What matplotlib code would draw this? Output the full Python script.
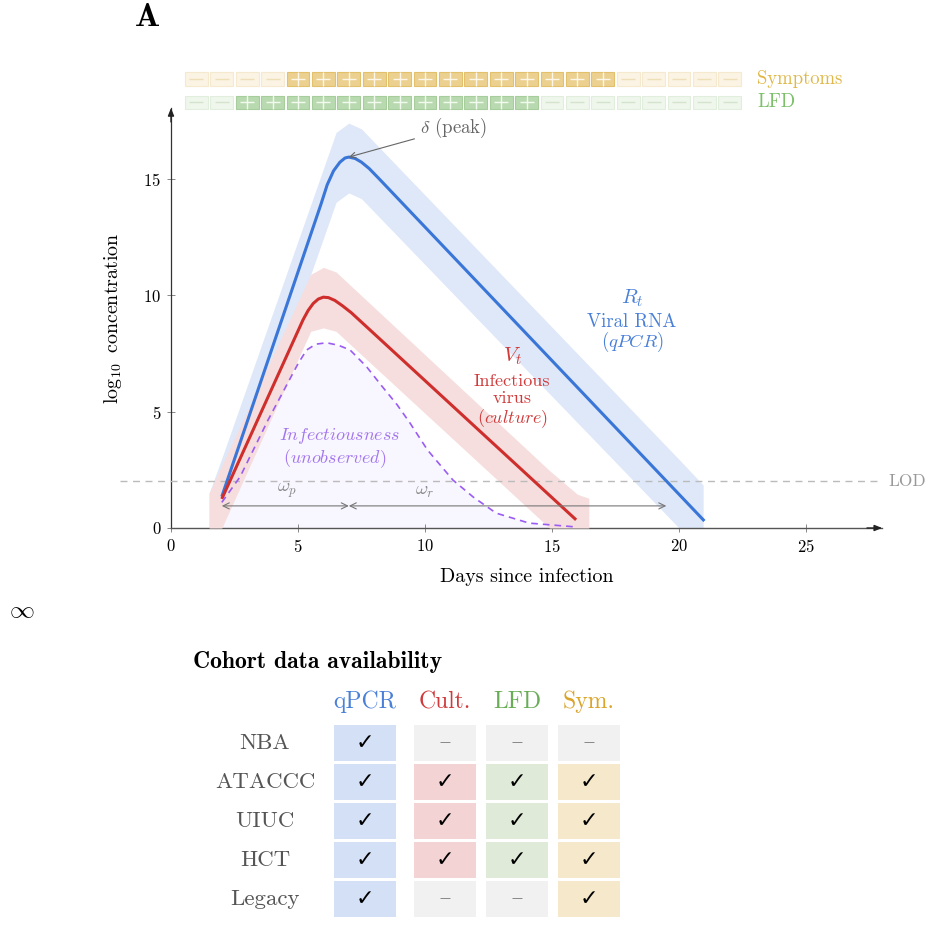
import matplotlib
matplotlib.use('Agg')
import matplotlib.pyplot as plt
from matplotlib.patches import Rectangle

plt.rcParams['font.family'] = ['cmr10', 'DejaVu Serif']
plt.rcParams['mathtext.fontset'] = 'cm'
plt.rcParams['axes.formatter.use_mathtext'] = True

# ---------------- data ----------------
days = [1, 2, 3, 4, 5, 6, 7, 8, 9, 10, 11, 12, 13, 14, 15, 16, 17, 18, 19, 20, 21, 22]
symptoms = [0, 0, 0, 0, 1, 1, 1, 1, 1, 1, 1, 1, 1, 1, 1, 1, 1, 0, 0, 0, 0, 0]
lfd = [0, 0, 1, 1, 1, 1, 1, 1, 1, 1, 1, 1, 1, 1, 0, 0, 0, 0, 0, 0, 0, 0]

rna_t = [2.0, 5.9, 6.15, 6.4, 6.65, 6.85, 7.0, 7.25, 7.5, 7.8, 8.2, 21.0]
rna_v = [1.35, 13.9, 14.75, 15.35, 15.72, 15.9, 15.94, 15.88, 15.72, 15.45, 15.0, 0.3]
rna_band_t = [1.5, 2.0, 6.5, 7.0, 7.5, 20.0, 20.95]
rna_band_hi = [1.5, 3.0, 17.0, 17.4, 17.15, 2.95, 1.85]
rna_band_lo = [0.0, 0.0, 14.0, 14.4, 14.15, 0.0, 0.0]

vir_t = [2.0, 5.2, 5.4, 5.6, 5.8, 6.0, 6.2, 6.45, 6.75, 7.1, 15.95]
vir_v = [1.25, 8.95, 9.35, 9.65, 9.84, 9.92, 9.9, 9.78, 9.55, 9.25, 0.35]
vir_band_t = [1.5, 2.0, 5.5, 6.0, 6.5, 14.9, 16.0, 16.45]
vir_band_hi = [1.5, 2.68, 10.9, 11.2, 11.0, 2.47, 1.45, 1.28]
vir_band_lo = [0.0, 0.0, 8.45, 8.6, 8.45, 0.0, 0.0, 0.0]

inf_t = [2.0, 2.72, 3.82, 5.01, 5.34, 5.7, 6.13, 6.6, 7.05, 7.7, 8.3, 8.9, 9.41, 10.1, 11.1, 11.9, 12.8, 14.1, 16.0]
inf_v = [1.1, 2.2, 4.64, 7.08, 7.65, 7.9, 7.96, 7.85, 7.65, 6.93, 6.1, 5.3, 4.51, 3.35, 2.06, 1.33, 0.64, 0.21, 0.04]

lod = 2.0
t_onset, t_peak, t_end = 2.0, 7.0, 19.5
peak_point = (7.0, 15.94)

xticks = [0, 5, 10, 15, 20, 25]
yticks = [0, 5, 10, 15]

cohorts = ['NBA', 'ATACCC', 'UIUC', 'HCT', 'Legacy']
assays = ['qPCR', 'Cult.', 'LFD', 'Sym.']
avail = [[1, 0, 0, 0],
         [1, 1, 1, 1],
         [1, 1, 1, 1],
         [1, 1, 1, 1],
         [1, 0, 0, 1]]

# ---------------- styles ----------------
BLUE = '#3a76d8'
BLUE_T = '#4a80d8'
BLUE_BAND = '#dfe8f8'
RED = '#cf2f2c'
RED_T = '#d03a3a'
RED_BAND = '#f6dede'
PURP = '#9a5cf2'
PURP_T = '#a275ee'
PURP_FILL = '#f8f6fe'
GRAY = '#777777'
FS = 13.5

W, H = 928, 930
fig = plt.figure(figsize=(W / 100, H / 100), dpi=100)

# overlay axes in pixel coordinates
ov = fig.add_axes([0, 0, 1, 1])
ov.set_xlim(0, W)
ov.set_ylim(H, 0)
ov.axis('off')
ov.patch.set_alpha(0)

# main axes: x px = 171 + 25.4*x ; y px = 528 - 23.27*y
x0px, sx = 171.0, 25.4
y0px, sy = 528.0, 23.27
xmin, xmax = -2.0, 28.0
ymin, ymax = 0.0, 18.05
left = (x0px + xmin * sx) / W
bottom = (H - y0px) / H
ax = fig.add_axes([left, bottom, (xmax - xmin) * sx / W, (ymax - ymin) * sy / H])
ax.set_xlim(xmin, xmax)
ax.set_ylim(ymin, ymax)
ax.patch.set_alpha(0)

for s in ['top', 'right']:
    ax.spines[s].set_visible(False)
ax.spines['left'].set_position(('data', 0))
ax.spines['left'].set_bounds(0, ymax)
ax.spines['bottom'].set_bounds(0, xmax)
ax.spines['left'].set_color('#333333')
ax.spines['bottom'].set_color('#555555')
ax.spines['left'].set_linewidth(0.9)
ax.spines['bottom'].set_linewidth(1.0)
ax.set_xticks(xticks)
ax.set_yticks(yticks)
ax.tick_params(direction='inout', length=6, width=0.7, color='#888888',
               labelsize=12, pad=4)
ax.annotate('', xy=(xmax, 0), xytext=(xmax - 0.6, 0),
            arrowprops=dict(arrowstyle='-|>,head_length=0.45,head_width=0.18',
                            color='#222222', lw=1.0, shrinkA=0, shrinkB=0),
            annotation_clip=False)
ax.annotate('', xy=(0, ymax), xytext=(0, ymax - 0.6),
            arrowprops=dict(arrowstyle='-|>,head_length=0.45,head_width=0.18',
                            color='#222222', lw=1.0, shrinkA=0, shrinkB=0),
            annotation_clip=False)

ax.text(14.0, -2.1, 'Days since infection', fontsize=14.4, ha='center', va='center',
        clip_on=False)
ax.text(-2.3, 9.0, r'$\log_{10}$ concentration', fontsize=14.4, ha='center',
        va='center', rotation=90, clip_on=False)

# bands and fills
ax.fill_between(inf_t, 0, inf_v, color=PURP_FILL, lw=0, zorder=1)
ax.fill_between(rna_band_t, rna_band_lo, rna_band_hi, color=BLUE_BAND, lw=0, zorder=2)
ax.fill_between(vir_band_t, vir_band_lo, vir_band_hi, color=RED_BAND, lw=0, zorder=3)

ax.axhline(lod, color='#bbbbbb', ls=(0, (5, 4)), lw=1.0, zorder=4)
ax.text(28.25, lod, 'LOD', color='#999999', fontsize=12.5, va='center', ha='left',
        clip_on=False)

ax.plot(rna_t, rna_v, color=BLUE, lw=2.2, zorder=6, solid_capstyle='butt',
        solid_joinstyle='round')
ax.plot(vir_t, vir_v, color=RED, lw=2.2, zorder=6, solid_capstyle='butt',
        solid_joinstyle='round')
ax.plot(inf_t, inf_v, color=PURP, lw=1.2, ls=(0, (4, 3)), zorder=6)

# omega arrows
arr = dict(arrowstyle='<->,head_length=0.45,head_width=0.22', color=GRAY, lw=0.8,
           shrinkA=0, shrinkB=0)
ax.annotate('', xy=(t_peak, 0.95), xytext=(t_onset, 0.95), arrowprops=arr, zorder=7)
ax.annotate('', xy=(t_end, 0.95), xytext=(t_peak, 0.95), arrowprops=arr, zorder=7)
ax.text(4.56, 1.6, r'$\omega_p$', color='#888888', fontsize=FS, ha='center', va='center')
ax.text(10.0, 1.6, r'$\omega_r$', color='#888888', fontsize=FS, ha='center', va='center')

# delta (peak)
ax.annotate(r'$\delta$ (peak)', xy=peak_point, xytext=(9.8, 17.19),
            color='#666666', fontsize=FS, va='center', ha='left',
            arrowprops=dict(arrowstyle='->,head_length=0.3,head_width=0.15',
                            color='#666666', lw=0.8, shrinkA=2, shrinkB=0),
            annotation_clip=False, zorder=8)

# curve labels
ax.text(18.15, 9.88, r'$R_t$', color=BLUE_T, fontsize=15, ha='center', va='center')
ax.text(18.15, 8.85, 'Viral RNA', color=BLUE_T, fontsize=FS, ha='center', va='center')
ax.text(18.15, 8.0, r'$(qPCR)$', color=BLUE_T, fontsize=FS, ha='center', va='center')
ax.text(13.43, 7.39, r'$V_t$', color=RED_T, fontsize=15, ha='center', va='center')
ax.text(13.43, 6.32, 'Infectious', color=RED_T, fontsize=13, ha='center', va='center')
ax.text(13.43, 5.56, 'virus', color=RED_T, fontsize=13, ha='center', va='center')
ax.text(13.43, 4.7, r'$(\mathit{culture})$', color=RED_T, fontsize=13, ha='center', va='center')
ax.text(6.65, 3.95, r'$\mathit{Infectiousness}$', color=PURP_T, fontsize=13, ha='center', va='center')
ax.text(6.45, 3.0, r'$(\mathit{unobserved})$', color=PURP_T, fontsize=13, ha='center', va='center')

# strips above the axis
box_w, box_h = 0.89, 0.59
strips = [
    (19.29, symptoms, 'Symptoms', ('#ebd08f', '#e2c06c', '#fdf7ea'),
     ('#fbf4e4', '#f5eacf', '#efdfb8'), '#e0b84a'),
    (18.29, lfd, 'LFD', ('#b9dab0', '#a6cd9b', '#f2f9ef'),
     ('#eff6ec', '#e2eedd', '#d3e3cd'), '#7cc06a'),
]
for yc, states, label, on_sty, off_sty, lab_col in strips:
    for d, st in zip(days, states):
        fc, ec, mc = on_sty if st else off_sty
        ax.add_patch(Rectangle((d - box_w / 2, yc - box_h / 2), box_w, box_h,
                               facecolor=fc, edgecolor=ec, lw=0.8, clip_on=False,
                               zorder=5))
        ax.plot([d], [yc], marker='+' if st else '_', ms=10, mew=1.0, color=mc,
                clip_on=False, zorder=6)
    ax.text(23.07, yc, label, color=lab_col, fontsize=FS, va='center', ha='left',
            clip_on=False)

# ---------------- free texts ----------------
ov.text(147, 18, 'A', fontfamily='cmb10', fontsize=24, ha='center', va='center')
ov.text(22, 611, r'$\infty$', fontsize=18, ha='center', va='center')
ov.text(193, 662, 'Cohort data availability', fontfamily='cmb10', fontsize=17,
        ha='left', va='center')

# ---------------- table ----------------
col_x = [365, 445, 517, 589]
row_y = [743, 782, 821, 860, 899]
cell_w, cell_h = 62, 36
head_cols = ['#4a80d8', '#d03a3a', '#6aad57', '#dba42a']
on_cols = ['#d3e0f6', '#f3d3d3', '#dfebd8', '#f5e8cb']
off_col = '#f1f1f1'
for j, a in enumerate(assays):
    ov.text(col_x[j], 702, a, color=head_cols[j], fontsize=17, ha='center', va='center')
for i, c in enumerate(cohorts):
    ov.text(265, row_y[i], c, color='#555555', fontsize=16.5, ha='center', va='center')
    for j in range(len(assays)):
        on = avail[i][j]
        ov.add_patch(Rectangle((col_x[j] - cell_w / 2, row_y[i] - cell_h / 2), cell_w, cell_h,
                               facecolor=on_cols[j] if on else off_col, edgecolor='none'))
        if on:
            ov.text(col_x[j], row_y[i], '\u2713', fontfamily='DejaVu Sans', fontsize=16,
                    ha='center', va='center', color='black')
        else:
            ov.text(col_x[j], row_y[i] - 2, r'$-$', fontsize=12,
                    ha='center', va='center', color='#555555')

fig.savefig('out.png', dpi=100)
